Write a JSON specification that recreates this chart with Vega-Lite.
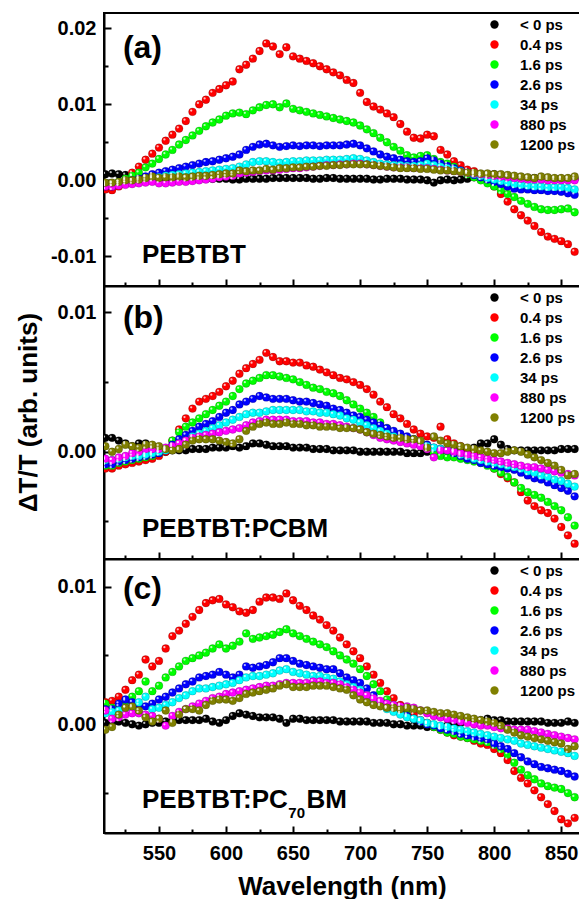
{
"$schema":"https://vega.github.io/schema/vega-lite/v6.json",
"padding":{"left":13,"top":12,"right":0,"bottom":0},
"background":"white",
"spacing":0,
"bounds":"flush",
"config":{
 "view":{"stroke":"black","strokeWidth":2},
 "axis":{"domainColor":"black","domainWidth":2,"tickColor":"black","tickWidth":2,"tickSize":-7,"labelFont":"Liberation Sans","labelFontSize":20,"labelFontWeight":"bold","labelColor":"black","titleFont":"Liberation Sans","titleFontSize":26,"titleFontWeight":"bold","titleColor":"black","grid":false,"labelPadding":15},
 "legend":{"orient":"top-right","offset":2,"padding":2,"rowPadding":4,"labelFont":"Liberation Sans","labelFontSize":15,"labelFontWeight":"bold","labelColor":"black","symbolSize":70,"symbolType":"circle","labelOffset":18,"symbolStrokeWidth":0},
 "text":{"font":"Liberation Sans","fontWeight":"bold","color":"black","align":"left","baseline":"alphabetic"}
},
"datasets":{
"a":[
{"w":510,"t0":0.0008,"t1":-0.0012,"t2":-0.0005,"t3":-0.0008,"t4":-0.0006,"t5":-0.0008,"t6":-0.0003},
{"w":515,"t0":0.0009,"t1":-0.0013,"t2":-0.0004,"t3":-0.0008,"t4":-0.0005,"t5":-0.0008,"t6":-0.0003},
{"w":520,"t0":0.0008,"t1":-0.0008,"t2":-0.0002,"t3":-0.0005,"t4":-0.0004,"t5":-0.0007,"t6":-0.0002},
{"w":525,"t0":0.0007,"t1":0.0000,"t2":0.0002,"t3":-0.0003,"t4":-0.0003,"t5":-0.0006,"t6":0.0000},
{"w":530,"t0":0.0005,"t1":0.0010,"t2":0.0006,"t3":0.0000,"t4":-0.0002,"t5":-0.0005,"t6":0.0000},
{"w":535,"t0":0.0004,"t1":0.0018,"t2":0.0010,"t3":0.0002,"t4":-0.0001,"t5":-0.0004,"t6":0.0001},
{"w":540,"t0":0.0004,"t1":0.0027,"t2":0.0017,"t3":0.0005,"t4":0.0000,"t5":-0.0003,"t6":0.0003},
{"w":545,"t0":0.0003,"t1":0.0035,"t2":0.0022,"t3":0.0008,"t4":0.0002,"t5":-0.0002,"t6":0.0005},
{"w":550,"t0":0.0003,"t1":0.0043,"t2":0.0028,"t3":0.0010,"t4":0.0004,"t5":-0.0004,"t6":0.0003},
{"w":555,"t0":0.0003,"t1":0.0052,"t2":0.0034,"t3":0.0012,"t4":0.0006,"t5":-0.0004,"t6":0.0004},
{"w":560,"t0":0.0002,"t1":0.0060,"t2":0.0040,"t3":0.0014,"t4":0.0007,"t5":-0.0003,"t6":0.0004},
{"w":565,"t0":0.0003,"t1":0.0068,"t2":0.0047,"t3":0.0016,"t4":0.0008,"t5":-0.0002,"t6":0.0005},
{"w":570,"t0":0.0003,"t1":0.0078,"t2":0.0053,"t3":0.0018,"t4":0.0009,"t5":-0.0002,"t6":0.0004},
{"w":575,"t0":0.0003,"t1":0.0090,"t2":0.0059,"t3":0.0020,"t4":0.0010,"t5":-0.0001,"t6":0.0005},
{"w":580,"t0":0.0002,"t1":0.0100,"t2":0.0065,"t3":0.0022,"t4":0.0011,"t5":0.0000,"t6":0.0006},
{"w":585,"t0":0.0002,"t1":0.0106,"t2":0.0071,"t3":0.0024,"t4":0.0012,"t5":0.0001,"t6":0.0006},
{"w":590,"t0":0.0002,"t1":0.0115,"t2":0.0076,"t3":0.0025,"t4":0.0013,"t5":0.0002,"t6":0.0007},
{"w":595,"t0":0.0002,"t1":0.0120,"t2":0.0080,"t3":0.0027,"t4":0.0014,"t5":0.0004,"t6":0.0008},
{"w":600,"t0":0.0002,"t1":0.0125,"t2":0.0085,"t3":0.0029,"t4":0.0015,"t5":0.0005,"t6":0.0009},
{"w":605,"t0":0.0001,"t1":0.0130,"t2":0.0088,"t3":0.0031,"t4":0.0016,"t5":0.0006,"t6":0.0009},
{"w":610,"t0":0.0001,"t1":0.0146,"t2":0.0089,"t3":0.0034,"t4":0.0018,"t5":0.0009,"t6":0.0013},
{"w":615,"t0":0.0002,"t1":0.0152,"t2":0.0087,"t3":0.0040,"t4":0.0021,"t5":0.0010,"t6":0.0012},
{"w":620,"t0":0.0002,"t1":0.0160,"t2":0.0092,"t3":0.0044,"t4":0.0024,"t5":0.0011,"t6":0.0013},
{"w":625,"t0":0.0002,"t1":0.0170,"t2":0.0096,"t3":0.0047,"t4":0.0025,"t5":0.0012,"t6":0.0013},
{"w":630,"t0":0.0002,"t1":0.0180,"t2":0.0099,"t3":0.0048,"t4":0.0025,"t5":0.0013,"t6":0.0015},
{"w":635,"t0":0.0003,"t1":0.0176,"t2":0.0100,"t3":0.0046,"t4":0.0024,"t5":0.0013,"t6":0.0014},
{"w":640,"t0":0.0003,"t1":0.0166,"t2":0.0096,"t3":0.0044,"t4":0.0023,"t5":0.0014,"t6":0.0016},
{"w":645,"t0":0.0003,"t1":0.0175,"t2":0.0101,"t3":0.0045,"t4":0.0024,"t5":0.0015,"t6":0.0016},
{"w":650,"t0":0.0003,"t1":0.0163,"t2":0.0094,"t3":0.0046,"t4":0.0025,"t5":0.0016,"t6":0.0017},
{"w":655,"t0":0.0003,"t1":0.0160,"t2":0.0092,"t3":0.0045,"t4":0.0025,"t5":0.0016,"t6":0.0017},
{"w":660,"t0":0.0003,"t1":0.0157,"t2":0.0090,"t3":0.0046,"t4":0.0026,"t5":0.0017,"t6":0.0018},
{"w":665,"t0":0.0002,"t1":0.0154,"t2":0.0088,"t3":0.0046,"t4":0.0026,"t5":0.0018,"t6":0.0018},
{"w":670,"t0":0.0002,"t1":0.0150,"t2":0.0086,"t3":0.0045,"t4":0.0026,"t5":0.0019,"t6":0.0019},
{"w":675,"t0":0.0003,"t1":0.0146,"t2":0.0084,"t3":0.0046,"t4":0.0027,"t5":0.0020,"t6":0.0019},
{"w":680,"t0":0.0003,"t1":0.0142,"t2":0.0082,"t3":0.0046,"t4":0.0027,"t5":0.0020,"t6":0.0020},
{"w":685,"t0":0.0002,"t1":0.0138,"t2":0.0080,"t3":0.0046,"t4":0.0027,"t5":0.0021,"t6":0.0020},
{"w":690,"t0":0.0002,"t1":0.0132,"t2":0.0078,"t3":0.0047,"t4":0.0028,"t5":0.0021,"t6":0.0021},
{"w":695,"t0":0.0002,"t1":0.0128,"t2":0.0076,"t3":0.0048,"t4":0.0029,"t5":0.0022,"t6":0.0021},
{"w":700,"t0":0.0002,"t1":0.0115,"t2":0.0072,"t3":0.0046,"t4":0.0028,"t5":0.0022,"t6":0.0021},
{"w":705,"t0":0.0002,"t1":0.0103,"t2":0.0067,"t3":0.0042,"t4":0.0026,"t5":0.0021,"t6":0.0021},
{"w":710,"t0":0.0001,"t1":0.0097,"t2":0.0062,"t3":0.0038,"t4":0.0024,"t5":0.0020,"t6":0.0020},
{"w":715,"t0":0.0001,"t1":0.0093,"t2":0.0056,"t3":0.0034,"t4":0.0022,"t5":0.0019,"t6":0.0019},
{"w":720,"t0":0.0002,"t1":0.0088,"t2":0.0050,"t3":0.0031,"t4":0.0021,"t5":0.0018,"t6":0.0018},
{"w":725,"t0":0.0002,"t1":0.0083,"t2":0.0044,"t3":0.0029,"t4":0.0020,"t5":0.0017,"t6":0.0017},
{"w":730,"t0":0.0002,"t1":0.0074,"t2":0.0039,"t3":0.0027,"t4":0.0020,"t5":0.0017,"t6":0.0016},
{"w":735,"t0":0.0001,"t1":0.0064,"t2":0.0033,"t3":0.0025,"t4":0.0019,"t5":0.0017,"t6":0.0016},
{"w":740,"t0":0.0001,"t1":0.0056,"t2":0.0030,"t3":0.0024,"t4":0.0019,"t5":0.0016,"t6":0.0016},
{"w":745,"t0":0.0001,"t1":0.0055,"t2":0.0032,"t3":0.0025,"t4":0.0020,"t5":0.0016,"t6":0.0015},
{"w":750,"t0":0.0000,"t1":0.0060,"t2":0.0033,"t3":0.0029,"t4":0.0022,"t5":0.0016,"t6":0.0015},
{"w":755,"t0":-0.0003,"t1":0.0058,"t2":0.0028,"t3":0.0026,"t4":0.0020,"t5":0.0015,"t6":0.0014},
{"w":760,"t0":0.0000,"t1":0.0040,"t2":0.0024,"t3":0.0022,"t4":0.0018,"t5":0.0014,"t6":0.0013},
{"w":765,"t0":0.0001,"t1":0.0034,"t2":0.0022,"t3":0.0019,"t4":0.0016,"t5":0.0013,"t6":0.0013},
{"w":770,"t0":0.0000,"t1":0.0025,"t2":0.0018,"t3":0.0016,"t4":0.0014,"t5":0.0012,"t6":0.0012},
{"w":775,"t0":0.0001,"t1":0.0020,"t2":0.0012,"t3":0.0013,"t4":0.0012,"t5":0.0011,"t6":0.0011},
{"w":780,"t0":0.0002,"t1":0.0014,"t2":0.0008,"t3":0.0010,"t4":0.0010,"t5":0.0010,"t6":0.0010},
{"w":785,"t0":0.0004,"t1":0.0012,"t2":0.0004,"t3":0.0007,"t4":0.0008,"t5":0.0009,"t6":0.0010},
{"w":790,"t0":0.0006,"t1":0.0006,"t2":0.0000,"t3":0.0004,"t4":0.0006,"t5":0.0008,"t6":0.0009},
{"w":795,"t0":0.0008,"t1":0.0000,"t2":-0.0004,"t3":0.0001,"t4":0.0003,"t5":0.0007,"t6":0.0009},
{"w":800,"t0":0.0008,"t1":-0.0008,"t2":-0.0008,"t3":-0.0002,"t4":0.0001,"t5":0.0006,"t6":0.0008},
{"w":805,"t0":0.0006,"t1":-0.0018,"t2":-0.0013,"t3":-0.0005,"t4":-0.0001,"t5":0.0005,"t6":0.0008},
{"w":810,"t0":0.0005,"t1":-0.0028,"t2":-0.0018,"t3":-0.0008,"t4":-0.0003,"t5":0.0004,"t6":0.0007},
{"w":815,"t0":0.0004,"t1":-0.0038,"t2":-0.0022,"t3":-0.0011,"t4":-0.0005,"t5":0.0003,"t6":0.0006},
{"w":820,"t0":0.0004,"t1":-0.0046,"t2":-0.0027,"t3":-0.0012,"t4":-0.0006,"t5":0.0002,"t6":0.0005},
{"w":825,"t0":0.0003,"t1":-0.0053,"t2":-0.0031,"t3":-0.0012,"t4":-0.0007,"t5":0.0001,"t6":0.0004},
{"w":830,"t0":0.0003,"t1":-0.0060,"t2":-0.0035,"t3":-0.0013,"t4":-0.0008,"t5":0.0001,"t6":0.0003},
{"w":835,"t0":0.0003,"t1":-0.0068,"t2":-0.0038,"t3":-0.0013,"t4":-0.0008,"t5":0.0001,"t6":0.0005},
{"w":840,"t0":0.0002,"t1":-0.0074,"t2":-0.0039,"t3":-0.0014,"t4":-0.0009,"t5":0.0000,"t6":0.0004},
{"w":845,"t0":0.0002,"t1":-0.0077,"t2":-0.0039,"t3":-0.0014,"t4":-0.0009,"t5":0.0000,"t6":0.0003},
{"w":850,"t0":0.0002,"t1":-0.0080,"t2":-0.0038,"t3":-0.0015,"t4":-0.0009,"t5":0.0000,"t6":0.0003},
{"w":855,"t0":0.0002,"t1":-0.0084,"t2":-0.0037,"t3":-0.0017,"t4":-0.0010,"t5":0.0000,"t6":0.0003},
{"w":860,"t0":0.0002,"t1":-0.0094,"t2":-0.0042,"t3":-0.0019,"t4":-0.0012,"t5":0.0000,"t6":0.0005}
],
"b":[
{"w":510,"t0":0.0010,"t1":-0.0012,"t2":-0.0010,"t3":-0.0009,"t4":-0.0006,"t5":-0.0005,"t6":0.0004},
{"w":515,"t0":0.0010,"t1":-0.0012,"t2":-0.0010,"t3":-0.0009,"t4":-0.0006,"t5":-0.0006,"t6":0.0000},
{"w":520,"t0":0.0008,"t1":-0.0010,"t2":-0.0008,"t3":-0.0007,"t4":-0.0005,"t5":-0.0004,"t6":0.0002},
{"w":525,"t0":0.0006,"t1":-0.0009,"t2":-0.0007,"t3":-0.0006,"t4":-0.0004,"t5":-0.0003,"t6":0.0005},
{"w":530,"t0":0.0004,"t1":-0.0008,"t2":-0.0006,"t3":-0.0005,"t4":-0.0003,"t5":-0.0001,"t6":0.0004},
{"w":535,"t0":0.0006,"t1":-0.0007,"t2":-0.0005,"t3":-0.0004,"t4":-0.0003,"t5":0.0000,"t6":0.0003},
{"w":540,"t0":0.0006,"t1":-0.0006,"t2":-0.0004,"t3":-0.0003,"t4":-0.0002,"t5":0.0002,"t6":0.0005},
{"w":545,"t0":0.0003,"t1":-0.0005,"t2":-0.0003,"t3":-0.0002,"t4":-0.0001,"t5":0.0002,"t6":0.0005},
{"w":550,"t0":0.0001,"t1":-0.0003,"t2":-0.0001,"t3":-0.0001,"t4":0.0000,"t5":0.0002,"t6":0.0004},
{"w":555,"t0":0.0000,"t1":0.0000,"t2":0.0002,"t3":0.0001,"t4":0.0001,"t5":0.0003,"t6":0.0002},
{"w":560,"t0":0.0001,"t1":0.0008,"t2":0.0008,"t3":0.0005,"t4":0.0003,"t5":0.0004,"t6":0.0001},
{"w":565,"t0":0.0001,"t1":0.0016,"t2":0.0014,"t3":0.0009,"t4":0.0006,"t5":0.0006,"t6":0.0002},
{"w":570,"t0":0.0001,"t1":0.0024,"t2":0.0018,"t3":0.0012,"t4":0.0008,"t5":0.0008,"t6":0.0005},
{"w":575,"t0":0.0002,"t1":0.0031,"t2":0.0021,"t3":0.0015,"t4":0.0011,"t5":0.0010,"t6":0.0008},
{"w":580,"t0":0.0002,"t1":0.0036,"t2":0.0024,"t3":0.0018,"t4":0.0013,"t5":0.0011,"t6":0.0009},
{"w":585,"t0":0.0002,"t1":0.0038,"t2":0.0027,"t3":0.0020,"t4":0.0015,"t5":0.0012,"t6":0.0009},
{"w":590,"t0":0.0003,"t1":0.0040,"t2":0.0030,"t3":0.0022,"t4":0.0017,"t5":0.0013,"t6":0.0009},
{"w":595,"t0":0.0003,"t1":0.0043,"t2":0.0033,"t3":0.0025,"t4":0.0019,"t5":0.0014,"t6":0.0008},
{"w":600,"t0":0.0003,"t1":0.0047,"t2":0.0036,"t3":0.0028,"t4":0.0021,"t5":0.0015,"t6":0.0007},
{"w":605,"t0":0.0004,"t1":0.0051,"t2":0.0040,"t3":0.0030,"t4":0.0023,"t5":0.0016,"t6":0.0006},
{"w":610,"t0":0.0003,"t1":0.0056,"t2":0.0045,"t3":0.0034,"t4":0.0025,"t5":0.0017,"t6":0.0009},
{"w":615,"t0":0.0004,"t1":0.0060,"t2":0.0049,"t3":0.0036,"t4":0.0027,"t5":0.0019,"t6":0.0015},
{"w":620,"t0":0.0006,"t1":0.0063,"t2":0.0051,"t3":0.0038,"t4":0.0028,"t5":0.0021,"t6":0.0018},
{"w":625,"t0":0.0006,"t1":0.0066,"t2":0.0053,"t3":0.0040,"t4":0.0028,"t5":0.0022,"t6":0.0020},
{"w":630,"t0":0.0005,"t1":0.0071,"t2":0.0055,"t3":0.0039,"t4":0.0029,"t5":0.0023,"t6":0.0021},
{"w":635,"t0":0.0004,"t1":0.0068,"t2":0.0055,"t3":0.0038,"t4":0.0030,"t5":0.0023,"t6":0.0020},
{"w":640,"t0":0.0004,"t1":0.0065,"t2":0.0054,"t3":0.0038,"t4":0.0030,"t5":0.0023,"t6":0.0020},
{"w":645,"t0":0.0004,"t1":0.0065,"t2":0.0053,"t3":0.0038,"t4":0.0030,"t5":0.0023,"t6":0.0021},
{"w":650,"t0":0.0003,"t1":0.0064,"t2":0.0052,"t3":0.0037,"t4":0.0030,"t5":0.0022,"t6":0.0020},
{"w":655,"t0":0.0003,"t1":0.0064,"t2":0.0050,"t3":0.0036,"t4":0.0030,"t5":0.0022,"t6":0.0020},
{"w":660,"t0":0.0003,"t1":0.0062,"t2":0.0048,"t3":0.0036,"t4":0.0029,"t5":0.0022,"t6":0.0019},
{"w":665,"t0":0.0002,"t1":0.0061,"t2":0.0046,"t3":0.0035,"t4":0.0029,"t5":0.0021,"t6":0.0019},
{"w":670,"t0":0.0002,"t1":0.0059,"t2":0.0045,"t3":0.0034,"t4":0.0028,"t5":0.0021,"t6":0.0018},
{"w":675,"t0":0.0002,"t1":0.0057,"t2":0.0043,"t3":0.0033,"t4":0.0028,"t5":0.0020,"t6":0.0018},
{"w":680,"t0":0.0001,"t1":0.0055,"t2":0.0042,"t3":0.0031,"t4":0.0027,"t5":0.0020,"t6":0.0018},
{"w":685,"t0":0.0001,"t1":0.0053,"t2":0.0040,"t3":0.0030,"t4":0.0026,"t5":0.0019,"t6":0.0017},
{"w":690,"t0":0.0001,"t1":0.0052,"t2":0.0037,"t3":0.0028,"t4":0.0024,"t5":0.0018,"t6":0.0017},
{"w":695,"t0":0.0001,"t1":0.0050,"t2":0.0034,"t3":0.0026,"t4":0.0023,"t5":0.0017,"t6":0.0017},
{"w":700,"t0":0.0000,"t1":0.0048,"t2":0.0031,"t3":0.0025,"t4":0.0021,"t5":0.0016,"t6":0.0016},
{"w":705,"t0":0.0000,"t1":0.0045,"t2":0.0028,"t3":0.0023,"t4":0.0019,"t5":0.0014,"t6":0.0014},
{"w":710,"t0":0.0000,"t1":0.0041,"t2":0.0025,"t3":0.0021,"t4":0.0017,"t5":0.0012,"t6":0.0013},
{"w":715,"t0":0.0000,"t1":0.0036,"t2":0.0021,"t3":0.0019,"t4":0.0015,"t5":0.0010,"t6":0.0012},
{"w":720,"t0":0.0000,"t1":0.0032,"t2":0.0017,"t3":0.0017,"t4":0.0013,"t5":0.0009,"t6":0.0011},
{"w":725,"t0":0.0000,"t1":0.0027,"t2":0.0014,"t3":0.0015,"t4":0.0011,"t5":0.0008,"t6":0.0010},
{"w":730,"t0":0.0000,"t1":0.0024,"t2":0.0012,"t3":0.0013,"t4":0.0010,"t5":0.0007,"t6":0.0010},
{"w":735,"t0":-0.0001,"t1":0.0020,"t2":0.0010,"t3":0.0011,"t4":0.0008,"t5":0.0006,"t6":0.0009},
{"w":740,"t0":-0.0001,"t1":0.0016,"t2":0.0009,"t3":0.0009,"t4":0.0007,"t5":0.0005,"t6":0.0009},
{"w":745,"t0":-0.0001,"t1":0.0013,"t2":0.0007,"t3":0.0007,"t4":0.0006,"t5":0.0004,"t6":0.0008},
{"w":750,"t0":0.0000,"t1":0.0011,"t2":0.0003,"t3":0.0005,"t4":0.0004,"t5":0.0002,"t6":0.0003},
{"w":755,"t0":0.0000,"t1":0.0010,"t2":-0.0001,"t3":0.0003,"t4":0.0003,"t5":-0.0004,"t6":0.0011},
{"w":760,"t0":0.0000,"t1":0.0018,"t2":-0.0003,"t3":0.0002,"t4":0.0002,"t5":0.0001,"t6":0.0008},
{"w":765,"t0":0.0001,"t1":0.0009,"t2":-0.0004,"t3":0.0001,"t4":0.0001,"t5":0.0001,"t6":0.0006},
{"w":770,"t0":0.0001,"t1":0.0006,"t2":-0.0004,"t3":-0.0001,"t4":0.0000,"t5":0.0000,"t6":0.0005},
{"w":775,"t0":0.0002,"t1":0.0004,"t2":-0.0005,"t3":-0.0003,"t4":-0.0002,"t5":-0.0001,"t6":0.0004},
{"w":780,"t0":0.0002,"t1":0.0002,"t2":-0.0006,"t3":-0.0005,"t4":-0.0003,"t5":-0.0002,"t6":0.0003},
{"w":785,"t0":0.0003,"t1":-0.0001,"t2":-0.0007,"t3":-0.0006,"t4":-0.0005,"t5":-0.0003,"t6":0.0002},
{"w":790,"t0":0.0006,"t1":-0.0004,"t2":-0.0008,"t3":-0.0008,"t4":-0.0006,"t5":-0.0004,"t6":0.0001},
{"w":795,"t0":0.0006,"t1":-0.0008,"t2":-0.0010,"t3":-0.0009,"t4":-0.0007,"t5":-0.0005,"t6":0.0000},
{"w":800,"t0":0.0009,"t1":-0.0012,"t2":-0.0012,"t3":-0.0010,"t4":-0.0008,"t5":-0.0006,"t6":-0.0001},
{"w":805,"t0":0.0005,"t1":-0.0016,"t2":-0.0015,"t3":-0.0011,"t4":-0.0009,"t5":-0.0007,"t6":-0.0001},
{"w":810,"t0":0.0002,"t1":-0.0019,"t2":-0.0018,"t3":-0.0012,"t4":-0.0010,"t5":-0.0008,"t6":0.0000},
{"w":815,"t0":0.0001,"t1":-0.0022,"t2":-0.0022,"t3":-0.0013,"t4":-0.0011,"t5":-0.0009,"t6":0.0001},
{"w":820,"t0":0.0001,"t1":-0.0029,"t2":-0.0026,"t3":-0.0015,"t4":-0.0012,"t5":-0.0010,"t6":0.0000},
{"w":825,"t0":0.0001,"t1":-0.0035,"t2":-0.0029,"t3":-0.0017,"t4":-0.0014,"t5":-0.0011,"t6":-0.0002},
{"w":830,"t0":0.0001,"t1":-0.0039,"t2":-0.0031,"t3":-0.0019,"t4":-0.0015,"t5":-0.0011,"t6":-0.0004},
{"w":835,"t0":0.0001,"t1":-0.0042,"t2":-0.0033,"t3":-0.0020,"t4":-0.0017,"t5":-0.0012,"t6":-0.0006},
{"w":840,"t0":0.0001,"t1":-0.0044,"t2":-0.0036,"t3":-0.0022,"t4":-0.0018,"t5":-0.0013,"t6":-0.0008},
{"w":845,"t0":0.0001,"t1":-0.0048,"t2":-0.0039,"t3":-0.0024,"t4":-0.0020,"t5":-0.0014,"t6":-0.0010},
{"w":850,"t0":0.0002,"t1":-0.0054,"t2":-0.0042,"t3":-0.0026,"t4":-0.0021,"t5":-0.0015,"t6":-0.0013},
{"w":855,"t0":0.0002,"t1":-0.0060,"t2":-0.0047,"t3":-0.0028,"t4":-0.0023,"t5":-0.0016,"t6":-0.0017},
{"w":860,"t0":0.0002,"t1":-0.0066,"t2":-0.0053,"t3":-0.0032,"t4":-0.0025,"t5":-0.0017,"t6":-0.0016}
],
"c":[
{"w":510,"t0":0.0001,"t1":0.0016,"t2":0.0015,"t3":0.0011,"t4":0.0008,"t5":0.0010,"t6":-0.0004},
{"w":515,"t0":0.0001,"t1":0.0017,"t2":0.0012,"t3":0.0011,"t4":0.0009,"t5":0.0004,"t6":-0.0002},
{"w":520,"t0":0.0002,"t1":0.0020,"t2":0.0013,"t3":0.0015,"t4":0.0010,"t5":0.0005,"t6":0.0007},
{"w":525,"t0":0.0001,"t1":0.0025,"t2":0.0017,"t3":0.0018,"t4":0.0012,"t5":0.0007,"t6":0.0012},
{"w":530,"t0":0.0000,"t1":0.0032,"t2":0.0020,"t3":0.0016,"t4":0.0012,"t5":0.0008,"t6":0.0013},
{"w":535,"t0":-0.0001,"t1":0.0036,"t2":0.0024,"t3":0.0014,"t4":0.0016,"t5":0.0008,"t6":0.0010},
{"w":540,"t0":0.0000,"t1":0.0047,"t2":0.0031,"t3":0.0013,"t4":0.0020,"t5":0.0007,"t6":0.0005},
{"w":545,"t0":0.0001,"t1":0.0042,"t2":0.0024,"t3":0.0015,"t4":0.0011,"t5":0.0006,"t6":0.0002},
{"w":550,"t0":0.0001,"t1":0.0046,"t2":0.0028,"t3":0.0018,"t4":0.0012,"t5":0.0004,"t6":0.0004},
{"w":555,"t0":0.0002,"t1":0.0055,"t2":0.0034,"t3":0.0020,"t4":0.0014,"t5":-0.0001,"t6":0.0010},
{"w":560,"t0":0.0002,"t1":0.0064,"t2":0.0038,"t3":0.0023,"t4":0.0016,"t5":0.0006,"t6":0.0001},
{"w":565,"t0":0.0003,"t1":0.0068,"t2":0.0042,"t3":0.0026,"t4":0.0019,"t5":0.0009,"t6":0.0007},
{"w":570,"t0":0.0003,"t1":0.0073,"t2":0.0046,"t3":0.0029,"t4":0.0021,"t5":0.0011,"t6":0.0011},
{"w":575,"t0":0.0003,"t1":0.0078,"t2":0.0048,"t3":0.0031,"t4":0.0024,"t5":0.0013,"t6":0.0011},
{"w":580,"t0":0.0003,"t1":0.0083,"t2":0.0050,"t3":0.0034,"t4":0.0026,"t5":0.0015,"t6":0.0010},
{"w":585,"t0":0.0004,"t1":0.0088,"t2":0.0052,"t3":0.0035,"t4":0.0026,"t5":0.0017,"t6":0.0014},
{"w":590,"t0":0.0002,"t1":0.0090,"t2":0.0055,"t3":0.0036,"t4":0.0027,"t5":0.0019,"t6":0.0017},
{"w":595,"t0":0.0001,"t1":0.0091,"t2":0.0058,"t3":0.0038,"t4":0.0028,"t5":0.0020,"t6":0.0018},
{"w":600,"t0":0.0003,"t1":0.0087,"t2":0.0055,"t3":0.0036,"t4":0.0029,"t5":0.0022,"t6":0.0018},
{"w":605,"t0":0.0006,"t1":0.0085,"t2":0.0057,"t3":0.0034,"t4":0.0030,"t5":0.0023,"t6":0.0017},
{"w":610,"t0":0.0008,"t1":0.0082,"t2":0.0060,"t3":0.0036,"t4":0.0032,"t5":0.0024,"t6":0.0019},
{"w":615,"t0":0.0007,"t1":0.0081,"t2":0.0066,"t3":0.0042,"t4":0.0034,"t5":0.0025,"t6":0.0022},
{"w":620,"t0":0.0006,"t1":0.0083,"t2":0.0062,"t3":0.0041,"t4":0.0035,"t5":0.0026,"t6":0.0023},
{"w":625,"t0":0.0005,"t1":0.0089,"t2":0.0063,"t3":0.0042,"t4":0.0035,"t5":0.0027,"t6":0.0024},
{"w":630,"t0":0.0005,"t1":0.0092,"t2":0.0064,"t3":0.0043,"t4":0.0036,"t5":0.0028,"t6":0.0025},
{"w":635,"t0":0.0005,"t1":0.0092,"t2":0.0065,"t3":0.0045,"t4":0.0037,"t5":0.0028,"t6":0.0026},
{"w":640,"t0":0.0004,"t1":0.0091,"t2":0.0067,"t3":0.0048,"t4":0.0039,"t5":0.0029,"t6":0.0028},
{"w":645,"t0":0.0001,"t1":0.0095,"t2":0.0069,"t3":0.0048,"t4":0.0040,"t5":0.0030,"t6":0.0029},
{"w":650,"t0":0.0004,"t1":0.0090,"t2":0.0066,"t3":0.0046,"t4":0.0038,"t5":0.0030,"t6":0.0027},
{"w":655,"t0":0.0004,"t1":0.0086,"t2":0.0064,"t3":0.0044,"t4":0.0037,"t5":0.0030,"t6":0.0027},
{"w":660,"t0":0.0003,"t1":0.0083,"t2":0.0062,"t3":0.0043,"t4":0.0036,"t5":0.0030,"t6":0.0027},
{"w":665,"t0":0.0003,"t1":0.0079,"t2":0.0060,"t3":0.0042,"t4":0.0035,"t5":0.0031,"t6":0.0028},
{"w":670,"t0":0.0003,"t1":0.0076,"t2":0.0058,"t3":0.0041,"t4":0.0035,"t5":0.0031,"t6":0.0028},
{"w":675,"t0":0.0003,"t1":0.0072,"t2":0.0056,"t3":0.0040,"t4":0.0034,"t5":0.0030,"t6":0.0028},
{"w":680,"t0":0.0003,"t1":0.0068,"t2":0.0053,"t3":0.0040,"t4":0.0033,"t5":0.0030,"t6":0.0027},
{"w":685,"t0":0.0002,"t1":0.0063,"t2":0.0050,"t3":0.0037,"t4":0.0031,"t5":0.0029,"t6":0.0026},
{"w":690,"t0":0.0002,"t1":0.0058,"t2":0.0047,"t3":0.0034,"t4":0.0029,"t5":0.0027,"t6":0.0025},
{"w":695,"t0":0.0002,"t1":0.0053,"t2":0.0044,"t3":0.0032,"t4":0.0027,"t5":0.0025,"t6":0.0021},
{"w":700,"t0":0.0002,"t1":0.0048,"t2":0.0040,"t3":0.0030,"t4":0.0025,"t5":0.0023,"t6":0.0018},
{"w":705,"t0":0.0002,"t1":0.0042,"t2":0.0035,"t3":0.0026,"t4":0.0021,"t5":0.0021,"t6":0.0016},
{"w":710,"t0":0.0001,"t1":0.0036,"t2":0.0029,"t3":0.0021,"t4":0.0018,"t5":0.0019,"t6":0.0014},
{"w":715,"t0":0.0001,"t1":0.0030,"t2":0.0024,"t3":0.0016,"t4":0.0014,"t5":0.0017,"t6":0.0013},
{"w":720,"t0":0.0001,"t1":0.0024,"t2":0.0018,"t3":0.0012,"t4":0.0011,"t5":0.0015,"t6":0.0012},
{"w":725,"t0":0.0000,"t1":0.0019,"t2":0.0014,"t3":0.0010,"t4":0.0009,"t5":0.0014,"t6":0.0012},
{"w":730,"t0":0.0000,"t1":0.0014,"t2":0.0010,"t3":0.0008,"t4":0.0007,"t5":0.0013,"t6":0.0011},
{"w":735,"t0":-0.0001,"t1":0.0011,"t2":0.0007,"t3":0.0006,"t4":0.0005,"t5":0.0013,"t6":0.0012},
{"w":740,"t0":-0.0001,"t1":0.0007,"t2":0.0004,"t3":0.0004,"t4":0.0004,"t5":0.0012,"t6":0.0011},
{"w":745,"t0":-0.0001,"t1":0.0003,"t2":0.0002,"t3":0.0002,"t4":0.0003,"t5":0.0010,"t6":0.0010},
{"w":750,"t0":-0.0002,"t1":0.0001,"t2":0.0000,"t3":0.0000,"t4":0.0001,"t5":0.0008,"t6":0.0010},
{"w":755,"t0":-0.0002,"t1":-0.0002,"t2":-0.0002,"t3":-0.0001,"t4":0.0000,"t5":0.0006,"t6":0.0009},
{"w":760,"t0":-0.0002,"t1":-0.0004,"t2":-0.0004,"t3":-0.0003,"t4":-0.0001,"t5":0.0005,"t6":0.0008},
{"w":765,"t0":-0.0001,"t1":-0.0006,"t2":-0.0006,"t3":-0.0004,"t4":-0.0002,"t5":0.0004,"t6":0.0008},
{"w":770,"t0":0.0000,"t1":-0.0008,"t2":-0.0007,"t3":-0.0005,"t4":-0.0003,"t5":0.0003,"t6":0.0007},
{"w":775,"t0":0.0001,"t1":-0.0009,"t2":-0.0009,"t3":-0.0007,"t4":-0.0004,"t5":0.0002,"t6":0.0006},
{"w":780,"t0":0.0002,"t1":-0.0010,"t2":-0.0010,"t3":-0.0008,"t4":-0.0005,"t5":0.0001,"t6":0.0005},
{"w":785,"t0":0.0002,"t1":-0.0012,"t2":-0.0011,"t3":-0.0009,"t4":-0.0006,"t5":0.0000,"t6":0.0004},
{"w":790,"t0":0.0003,"t1":-0.0014,"t2":-0.0012,"t3":-0.0010,"t4":-0.0007,"t5":-0.0001,"t6":0.0003},
{"w":795,"t0":0.0004,"t1":-0.0015,"t2":-0.0013,"t3":-0.0011,"t4":-0.0008,"t5":-0.0001,"t6":0.0002},
{"w":800,"t0":0.0003,"t1":-0.0018,"t2":-0.0015,"t3":-0.0014,"t4":-0.0009,"t5":-0.0002,"t6":0.0001},
{"w":805,"t0":0.0003,"t1":-0.0021,"t2":-0.0018,"t3":-0.0016,"t4":-0.0010,"t5":-0.0003,"t6":-0.0001},
{"w":810,"t0":0.0002,"t1":-0.0026,"t2":-0.0022,"t3":-0.0018,"t4":-0.0011,"t5":-0.0003,"t6":-0.0004},
{"w":815,"t0":0.0002,"t1":-0.0034,"t2":-0.0028,"t3":-0.0021,"t4":-0.0012,"t5":-0.0004,"t6":-0.0006},
{"w":820,"t0":0.0002,"t1":-0.0039,"t2":-0.0033,"t3":-0.0024,"t4":-0.0014,"t5":-0.0004,"t6":-0.0008},
{"w":825,"t0":0.0002,"t1":-0.0043,"t2":-0.0037,"t3":-0.0027,"t4":-0.0015,"t5":-0.0004,"t6":-0.0009},
{"w":830,"t0":0.0002,"t1":-0.0048,"t2":-0.0040,"t3":-0.0029,"t4":-0.0016,"t5":-0.0005,"t6":-0.0010},
{"w":835,"t0":0.0002,"t1":-0.0053,"t2":-0.0043,"t3":-0.0031,"t4":-0.0017,"t5":-0.0006,"t6":-0.0011},
{"w":840,"t0":0.0001,"t1":-0.0058,"t2":-0.0045,"t3":-0.0032,"t4":-0.0018,"t5":-0.0007,"t6":-0.0012},
{"w":845,"t0":0.0001,"t1":-0.0063,"t2":-0.0046,"t3":-0.0033,"t4":-0.0019,"t5":-0.0008,"t6":-0.0013},
{"w":850,"t0":0.0001,"t1":-0.0069,"t2":-0.0047,"t3":-0.0034,"t4":-0.0020,"t5":-0.0009,"t6":-0.0014},
{"w":855,"t0":0.0002,"t1":-0.0072,"t2":-0.0050,"t3":-0.0036,"t4":-0.0021,"t5":-0.0010,"t6":-0.0018},
{"w":860,"t0":0.0001,"t1":-0.0068,"t2":-0.0053,"t3":-0.0038,"t4":-0.0023,"t5":-0.0011,"t6":-0.0016}
]
},
"vconcat":[
{
 "width":476,"height":273,
 "layer":[
  {"data":{"name":"a"},
   "transform":[{"fold":["t0","t1","t2","t3","t4","t5","t6"],"as":["key","val"]}],
   "mark":{"type":"point","filled":true,"size":62,"opacity":1,"stroke":"rgba(0,0,0,0.3)","strokeWidth":0.6,"clip":true},
   "encoding":{
    "x":{"field":"w","type":"quantitative","scale":{"domain":[509,864],"nice":false,"zero":false},"axis":{"orient":"bottom","values":[550,600,650,700,750,800,850],"labels":false,"title":null}},
    "y":{"field":"val","type":"quantitative","scale":{"domain":[-0.0139,0.022],"nice":false,"zero":false},"axis":{"orient":"left","values":[-0.01,0,0.01,0.02],"labelExpr":"datum.value < 0 ? '-' + format(-datum.value, '.2f') : format(datum.value, '.2f')","title":null}},
    "color":{"field":"key","type":"nominal","scale":{"domain":["t0","t1","t2","t3","t4","t5","t6"],"range":["#000000","#ff0000","#00ff00","#0000ff","#00ffff","#ff00ff","#808000"]},"legend":{"title":null,"labelExpr":"['< 0 ps','0.4 ps','1.6 ps','2.6 ps','34 ps','880 ps','1200 ps'][indexof(['t0','t1','t2','t3','t4','t5','t6'], datum.label)]"}},
    "order":{"field":"key","type":"ordinal"}
   }},
  {"data":{"name":"a"},
   "transform":[{"fold":["t0","t1","t2","t3","t4","t5","t6"],"as":["key","val"]}],
   "mark":{"type":"point","filled":true,"size":5,"color":"white","opacity":0.75,"xOffset":-1.3,"yOffset":-1.3,"clip":true},
   "encoding":{
    "x":{"field":"w","type":"quantitative","scale":{"domain":[509,864],"nice":false,"zero":false},"axis":null},
    "y":{"field":"val","type":"quantitative","scale":{"domain":[-0.0139,0.022],"nice":false,"zero":false},"axis":null},
    "order":{"field":"key","type":"ordinal"}
   }},
  {"data":{"values":[{"label":"(a)","w":523.1,"v":0.01605}]},
   "mark":{"type":"text","fontSize":32},
   "encoding":{
    "x":{"field":"w","type":"quantitative","scale":{"domain":[509,864],"nice":false,"zero":false},"axis":{"orient":"bottom","values":[525,575,625,675,725,775,825],"tickSize":-4,"labels":false,"domain":false,"title":null}},
    "y":{"field":"v","type":"quantitative","scale":{"domain":[-0.0139,0.022],"nice":false,"zero":false},"axis":{"orient":"left","values":[-0.005,0.005,0.015],"tickSize":-4,"labels":false,"domain":false,"title":null}},
    "text":{"field":"label"}
   }},
  {"data":{"values":[{"label":"PEBTBT","w":537.3,"v":-0.01092}]},
   "mark":{"type":"text","fontSize":26},
   "encoding":{
    "x":{"field":"w","type":"quantitative","scale":{"domain":[509,864],"nice":false,"zero":false},"axis":null},
    "y":{"field":"v","type":"quantitative","scale":{"domain":[-0.0139,0.022],"nice":false,"zero":false},"axis":null},
    "text":{"field":"label"}
   }}
 ],
 "resolve":{"axis":{"x":"independent","y":"independent"}}
},
{
 "width":476,"height":273,
 "layer":[
  {"data":{"name":"b"},
   "transform":[{"fold":["t0","t1","t2","t3","t4","t5","t6"],"as":["key","val"]}],
   "mark":{"type":"point","filled":true,"size":62,"opacity":1,"stroke":"rgba(0,0,0,0.3)","strokeWidth":0.6,"clip":true},
   "encoding":{
    "x":{"field":"w","type":"quantitative","scale":{"domain":[509,864],"nice":false,"zero":false},"axis":{"orient":"bottom","values":[550,600,650,700,750,800,850],"labels":false,"title":null}},
    "y":{"field":"val","type":"quantitative","scale":{"domain":[-0.0077,0.0119],"nice":false,"zero":false},"axis":{"orient":"left","values":[0,0.01],"labelExpr":"format(datum.value, '.2f')","title":"ΔT/T (arb. units)","titleX":-68,"titleY":126,"titleBaseline":"alphabetic","titleAlign":"center","titleAngle":-90}},
    "color":{"field":"key","type":"nominal","scale":{"domain":["t0","t1","t2","t3","t4","t5","t6"],"range":["#000000","#ff0000","#00ff00","#0000ff","#00ffff","#ff00ff","#808000"]},"legend":{"title":null,"labelExpr":"['< 0 ps','0.4 ps','1.6 ps','2.6 ps','34 ps','880 ps','1200 ps'][indexof(['t0','t1','t2','t3','t4','t5','t6'], datum.label)]"}},
    "order":{"field":"key","type":"ordinal"}
   }},
  {"data":{"name":"b"},
   "transform":[{"fold":["t0","t1","t2","t3","t4","t5","t6"],"as":["key","val"]}],
   "mark":{"type":"point","filled":true,"size":5,"color":"white","opacity":0.75,"xOffset":-1.3,"yOffset":-1.3,"clip":true},
   "encoding":{
    "x":{"field":"w","type":"quantitative","scale":{"domain":[509,864],"nice":false,"zero":false},"axis":null},
    "y":{"field":"val","type":"quantitative","scale":{"domain":[-0.0077,0.0119],"nice":false,"zero":false},"axis":null},
    "order":{"field":"key","type":"ordinal"}
   }},
  {"data":{"values":[{"label":"(b)","w":523.1,"v":0.00885}]},
   "mark":{"type":"text","fontSize":32},
   "encoding":{
    "x":{"field":"w","type":"quantitative","scale":{"domain":[509,864],"nice":false,"zero":false},"axis":{"orient":"bottom","values":[525,575,625,675,725,775,825],"tickSize":-4,"labels":false,"domain":false,"title":null}},
    "y":{"field":"v","type":"quantitative","scale":{"domain":[-0.0077,0.0119],"nice":false,"zero":false},"axis":{"orient":"left","values":[-0.005,0.005],"tickSize":-4,"labels":false,"domain":false,"title":null}},
    "text":{"field":"label"}
   }},
  {"data":{"values":[{"label":"PEBTBT:PCBM","w":537.3,"v":-0.00612}]},
   "mark":{"type":"text","fontSize":26},
   "encoding":{
    "x":{"field":"w","type":"quantitative","scale":{"domain":[509,864],"nice":false,"zero":false},"axis":null},
    "y":{"field":"v","type":"quantitative","scale":{"domain":[-0.0077,0.0119],"nice":false,"zero":false},"axis":null},
    "text":{"field":"label"}
   }}
 ],
 "resolve":{"axis":{"x":"independent","y":"independent"}}
},
{
 "width":476,"height":274,
 "layer":[
  {"data":{"name":"c"},
   "transform":[{"fold":["t0","t1","t2","t3","t4","t5","t6"],"as":["key","val"]}],
   "mark":{"type":"point","filled":true,"size":62,"opacity":1,"stroke":"rgba(0,0,0,0.3)","strokeWidth":0.6,"clip":true},
   "encoding":{
    "x":{"field":"w","type":"quantitative","scale":{"domain":[509,864],"nice":false,"zero":false},"axis":{"orient":"bottom","values":[550,600,650,700,750,800,850],"labelPadding":17,"title":"Wavelength (nm)","titleY":61,"titleBaseline":"alphabetic"}},
    "y":{"field":"val","type":"quantitative","scale":{"domain":[-0.0079,0.012],"nice":false,"zero":false},"axis":{"orient":"left","values":[0,0.01],"labelExpr":"format(datum.value, '.2f')","title":null}},
    "color":{"field":"key","type":"nominal","scale":{"domain":["t0","t1","t2","t3","t4","t5","t6"],"range":["#000000","#ff0000","#00ff00","#0000ff","#00ffff","#ff00ff","#808000"]},"legend":{"title":null,"labelExpr":"['< 0 ps','0.4 ps','1.6 ps','2.6 ps','34 ps','880 ps','1200 ps'][indexof(['t0','t1','t2','t3','t4','t5','t6'], datum.label)]"}},
    "order":{"field":"key","type":"ordinal"}
   }},
  {"data":{"name":"c"},
   "transform":[{"fold":["t0","t1","t2","t3","t4","t5","t6"],"as":["key","val"]}],
   "mark":{"type":"point","filled":true,"size":5,"color":"white","opacity":0.75,"xOffset":-1.3,"yOffset":-1.3,"clip":true},
   "encoding":{
    "x":{"field":"w","type":"quantitative","scale":{"domain":[509,864],"nice":false,"zero":false},"axis":null},
    "y":{"field":"val","type":"quantitative","scale":{"domain":[-0.0079,0.012],"nice":false,"zero":false},"axis":null},
    "order":{"field":"key","type":"ordinal"}
   }},
  {"data":{"values":[{"label":"(c)","w":523.1,"v":0.00912}]},
   "mark":{"type":"text","fontSize":32},
   "encoding":{
    "x":{"field":"w","type":"quantitative","scale":{"domain":[509,864],"nice":false,"zero":false},"axis":{"orient":"bottom","values":[525,575,625,675,725,775,825],"tickSize":-4,"labels":false,"domain":false,"title":null}},
    "y":{"field":"v","type":"quantitative","scale":{"domain":[-0.0079,0.012],"nice":false,"zero":false},"axis":{"orient":"left","values":[-0.005,0.005],"tickSize":-4,"labels":false,"domain":false,"title":null}},
    "text":{"field":"label"}
   }},
  {"data":{"values":[{"label":"PEBTBT:PC","w":537.3,"v":-0.00606},{"label":"BM","w":660.0,"v":-0.00606}]},
   "mark":{"type":"text","fontSize":26},
   "encoding":{
    "x":{"field":"w","type":"quantitative","scale":{"domain":[509,864],"nice":false,"zero":false},"axis":null},
    "y":{"field":"v","type":"quantitative","scale":{"domain":[-0.0079,0.012],"nice":false,"zero":false},"axis":null},
    "text":{"field":"label"}
   }},
  {"data":{"values":[{"label":"70","w":646.5,"v":-0.00679}]},
   "mark":{"type":"text","fontSize":15},
   "encoding":{
    "x":{"field":"w","type":"quantitative","scale":{"domain":[509,864],"nice":false,"zero":false},"axis":null},
    "y":{"field":"v","type":"quantitative","scale":{"domain":[-0.0079,0.012],"nice":false,"zero":false},"axis":null},
    "text":{"field":"label"}
   }}
 ],
 "resolve":{"axis":{"x":"independent","y":"independent"}}
}
],
"resolve":{"legend":{"color":"independent"}}
}
